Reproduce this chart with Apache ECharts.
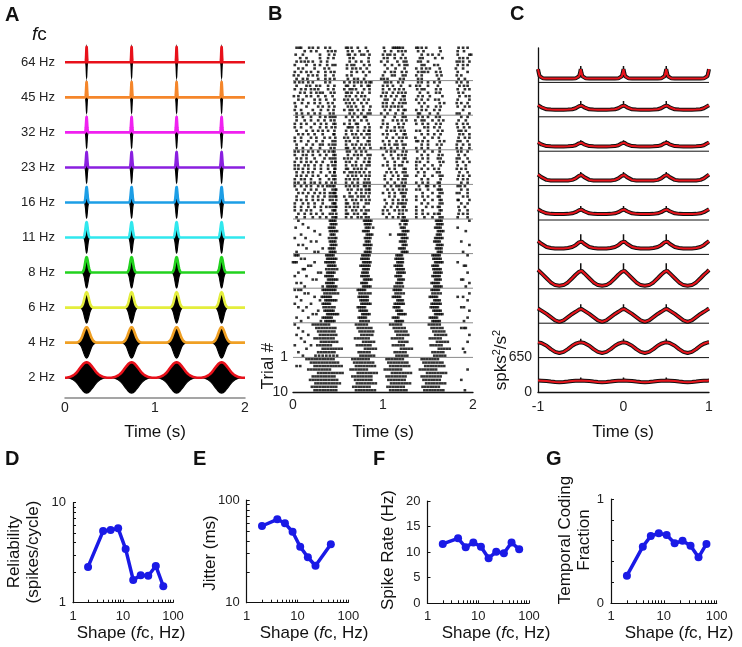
<!DOCTYPE html>
<html><head><meta charset="utf-8">
<script src="https://cdn.jsdelivr.net/npm/echarts@6/dist/echarts.min.js"></script>
<style>html,body{margin:0;padding:0;background:#fff}#c{width:742px;height:647px}</style>
</head><body><div id="c"></div><script>
const FONT = '"Liberation Sans", Arial, Helvetica, sans-serif';

// ---------- Panel A: stimulus waveforms ----------
const aLabels = ['2 Hz','4 Hz','6 Hz','8 Hz','11 Hz','16 Hz','23 Hz','32 Hz','45 Hz','64 Hz'];
const aColors = ['#e8101a','#f0a024','#e4ee3c','#22d21e','#30e8ee','#1c9ee6','#8a1fe0','#f020f0','#f5862a','#e8101a'];
const aPulseTimes = [0.24, 0.74, 1.24, 1.74];
const aHalfWidth = [0.075, 0.036, 0.024, 0.017, 0.012, 0.009, 0.007, 0.006, 0.005, 0.004];
const aAmp = 0.44;
const pulseOffsets = [0, 0.25, 0.5, 0.75, 1, 1.25, 1.5, 1.75, 2, 2.5, 3];
const pulseProfile = [1, 0.97, 0.88, 0.75, 0.61, 0.46, 0.32, 0.22, 0.14, 0.04, 0];

// ---------- Panel B: spike raster (times in 10 ms units), blocks top->bottom ----------
const spikes64 = [
[4,7,18,22,28,41,61,65,72,81,111,113,115,117,119,122,139,143,148,163,189,194,9,36,59,101,137,184],
[13,20,39,43,61,74,83,102,109,117,121,139,164,183,26,47,66,125,145,190],
[11,30,40,61,63,76,79,100,105,113,122,143,150,162,183,196,3,46,69,85,108,155,198],
[15,45,63,84,105,113,120,141,144,166,189,194,8,30,39,67,101,125,158,185],
[4,9,17,22,31,63,76,98,105,123,126,139,150,185,189,196,13,38,70,84,116,142,182],
[15,24,38,44,65,68,79,102,118,124,127,143,146,161,183,189,194,2,30,47,60,85,110,157],
[11,24,35,66,70,82,105,124,143,148,163,189,6,40,60,75,114,137,152,181],
[2,15,20,42,46,65,78,102,109,121,126,143,146,150,164,183,194,9,28,36,71,85,113,139,159],
[6,17,22,36,65,81,100,113,122,143,160,165,187,1,27,45,60,110,125,137,182],
[4,11,28,41,61,68,72,98,105,123,143,162,191,16,36,46,79,101,119,139,184]];
const spikes45 = [
[2,11,17,22,41,57,68,72,76,81,87,102,105,117,122,139,143,150,163,187,194,7,36,63,85,109,157,182],
[4,15,26,30,46,61,68,76,83,105,111,120,130,141,150,161,185,194,19,39,59,85,100,137,190],
[2,9,20,24,28,39,57,63,70,79,100,107,113,123,143,146,164,183,191,196,14,45,66,85,118,138,159],
[13,26,30,33,42,61,65,72,85,104,111,117,121,141,150,163,189,8,20,46,59,77,100,125,159,184],
[6,20,28,44,63,70,76,80,98,109,115,122,139,144,166,185,192,1,15,36,59,103,124,152,196],
[11,24,37,57,61,66,79,102,105,120,124,143,150,162,183,196,6,30,46,72,84,113,137,158],
[2,17,30,44,59,68,76,82,100,111,118,122,146,163,168,187,194,10,24,39,63,104,125,140,182],
[28,33,40,61,65,86,104,109,113,121,150,159,164,183,191,3,15,46,70,78,100,117,143,196],
[9,22,45,57,63,72,78,102,117,123,143,148,163,189,2,31,39,66,85,108,125,137,157],
[4,17,30,41,63,76,83,98,105,122,141,161,185,196,10,24,45,68,86,114,139,152,182]];
const spikes32 = [
[4,30,41,44,66,79,81,102,122,125,139,150,163,187,11,20,36,47,59,72,113,144,159,194],
[13,28,35,42,63,68,76,100,111,121,126,143,146,162,167,192,4,20,46,82,116,136,155,184],
[9,24,31,45,57,70,72,84,105,117,123,144,159,164,189,194,2,15,37,47,63,100,137,150,182],
[2,20,43,61,63,66,80,98,113,122,146,150,163,183,196,9,30,37,47,72,85,105,118,157,190],
[15,28,33,39,59,65,79,84,104,109,120,124,141,161,166,187,192,4,22,46,72,85,113,137,150,184],
[6,11,24,46,66,70,76,82,105,115,123,143,150,164,185,189,17,33,45,59,85,100,125,157,196],
[2,20,35,41,57,61,68,79,111,118,122,126,146,162,191,196,9,26,47,72,85,104,136,155,184],
[9,17,26,44,63,72,83,100,107,121,139,144,163,168,183,194,2,33,47,59,85,115,137,150,186],
[4,15,22,40,47,59,66,76,81,102,113,122,125,150,160,165,189,30,33,44,70,85,107,116,143,182,196],
[11,30,42,61,68,79,86,98,109,123,143,163,187,196,4,20,46,59,74,102,116,137,150,182]];
const spikes23 = [
[2,6,17,28,40,44,63,70,81,104,113,122,126,146,163,183,187,11,22,35,46,60,76,109,138,155,194],
[11,22,30,45,61,68,76,83,86,109,117,121,143,162,166,191,2,15,37,47,72,100,125,150,184],
[4,15,35,41,44,57,65,72,80,102,111,123,125,150,161,164,185,194,9,24,47,61,85,117,138,144,182],
[9,20,26,43,47,63,70,79,84,105,122,127,141,163,167,189,196,2,15,33,47,59,85,113,137,150,182],
[2,13,24,39,44,59,66,76,82,100,113,118,121,146,164,183,6,17,31,47,70,85,105,137,155,192],
[6,17,31,46,61,68,72,81,107,123,125,143,150,162,187,192,2,11,24,39,47,59,76,113,137,157,182],
[11,22,41,46,57,63,70,79,85,104,115,122,139,160,163,185,4,17,31,46,66,74,109,125,146,194],
[4,15,28,44,61,66,76,81,102,111,124,127,146,163,166,189,196,9,22,37,47,70,85,117,137,155,184],
[9,20,40,45,63,68,80,84,109,117,122,143,164,183,194,2,13,30,47,59,72,102,125,150,189],
[2,13,24,30,43,59,72,79,82,105,121,125,150,161,163,187,6,20,37,47,66,85,113,137,144,194]];
const spikes16 = [
[2,9,20,33,41,44,46,63,68,79,81,102,109,115,122,124,148,150,163,183,191,15,28,38,59,72,85,118,140,157,186],
[13,26,44,48,61,65,72,81,84,105,118,122,126,141,161,163,165,187,4,20,35,47,76,85,111,137,150,194],
[6,17,30,41,44,46,70,76,81,100,113,120,122,144,163,166,185,194,11,24,35,47,63,85,107,125,155,182],
[22,35,44,48,57,63,72,79,84,107,122,124,150,161,163,189,4,15,28,41,47,66,76,113,137,144,194],
[4,15,28,41,44,66,70,76,81,102,111,122,126,146,163,165,183,196,9,22,33,48,59,85,117,137,155,184],
[11,24,44,46,61,68,81,84,104,117,120,122,143,163,166,187,2,17,33,47,59,72,111,125,150,194],
[2,17,31,41,44,48,63,72,79,109,122,124,148,161,163,191,9,24,37,47,59,68,102,116,137,155,184],
[9,20,44,46,66,70,76,81,84,105,113,122,126,163,165,185,2,15,31,47,59,100,118,137,144,194],
[6,26,41,44,61,68,79,81,100,118,122,144,150,161,163,189,194,13,20,33,48,59,72,107,137,157,184],
[13,30,44,48,65,72,81,84,111,122,124,146,163,166,183,4,22,37,47,59,76,104,117,137,155,194]];
const spikes11 = [
[6,41,43,45,47,79,81,83,85,87,121,123,125,127,159,161,163,165,196],
[11,42,44,46,48,80,82,84,86,119,124,126,160,162,164,166],
[3,17,40,42,44,46,81,83,85,89,120,122,124,158,160,162,164,183],
[24,41,43,45,47,49,78,80,82,84,122,124,126,128,161,163,165,167,192],
[9,30,42,44,46,82,84,86,88,108,117,119,121,123,125,160,162,164],
[2,14,40,43,46,48,80,82,84,86,121,123,125,127,158,160,162,164,166],
[20,26,41,43,45,47,81,83,85,119,121,123,125,157,159,161,163,187],
[6,11,42,44,46,48,79,81,83,85,87,122,124,126,160,162,164,166,196],
[15,33,40,42,44,46,82,84,86,118,120,122,124,159,161,163,165],
[4,24,28,41,43,45,47,80,82,84,86,121,123,125,127,161,163,165,189]];
const spikes8 = [
[2,4,6,37,39,41,43,45,77,79,81,83,85,115,117,119,121,155,157,159,161,163,194],
[9,13,38,40,42,44,46,48,76,78,80,82,84,114,116,118,120,122,156,158,160,162,164],
[0,2,4,24,36,38,40,42,44,46,78,80,82,84,86,116,118,120,122,158,160,162,164,166,183],
[17,20,39,41,43,45,47,75,77,79,81,83,85,113,115,117,119,121,155,157,159,161,190,192],
[11,13,37,40,43,46,49,78,80,82,84,115,117,119,121,123,156,158,160,162,164],
[6,28,31,38,40,42,44,46,77,79,81,83,116,118,120,122,124,157,159,161,163,165,194],
[2,15,36,38,40,42,44,76,78,80,82,84,114,116,118,120,155,157,159,161,163],
[22,26,39,41,43,45,47,49,79,81,83,85,87,117,119,121,123,158,160,162,164,187,189],
[4,9,37,39,41,43,45,76,78,80,82,115,117,119,121,154,156,158,160,162,196],
[13,33,38,40,42,44,46,48,78,80,82,84,86,113,116,119,122,157,159,161,163,165,192]];
const spikes6 = [
[2,6,9,33,35,37,39,41,43,45,47,72,74,76,78,80,112,114,116,118,120,154,156,158,160,162],
[13,17,35,38,41,44,47,50,74,77,80,83,86,114,117,120,123,155,158,161,164,196],
[4,24,32,34,36,38,40,42,73,75,77,79,81,83,111,113,115,117,119,152,154,156,158,160,183,189],
[9,30,36,38,40,42,44,46,48,75,77,79,81,83,116,118,120,122,157,159,161,163,194],
[2,20,33,35,37,39,41,76,78,80,82,84,86,113,115,117,119,121,123,154,156,158,160,162,164],
[6,15,34,37,40,43,46,72,74,76,78,80,112,114,116,118,153,155,157,159,161,187,190],
[11,28,35,37,39,41,43,45,74,76,78,80,82,115,117,119,121,156,158,160,162,164,196],
[22,26,38,40,42,44,46,48,50,77,79,81,83,85,117,119,121,123,125,158,160,162,164,166],
[4,17,33,35,37,39,41,43,73,75,77,79,81,111,113,115,117,152,154,156,158,160,194],
[9,31,36,38,40,42,44,46,75,78,81,84,114,116,118,120,122,155,157,159,161,163,190]];
const spikes4 = [
[2,22,25,28,31,34,37,40,70,73,76,79,82,108,111,114,117,120,151,154,157,160,163],
[6,26,29,32,35,38,41,44,47,72,75,78,81,84,87,112,115,118,121,124,154,157,160,163,166,187,190,192],
[11,28,31,34,37,40,43,46,74,77,80,83,86,89,114,117,120,123,126,156,159,162,165,168],
[4,17,30,33,36,39,42,45,48,76,79,82,85,88,116,119,122,125,128,158,161,164,167,170,196],
[9,24,27,30,33,36,39,42,45,69,72,75,78,81,84,110,113,116,119,122,152,155,158,161,164],
[13,31,34,37,40,43,46,49,78,81,84,87,90,118,121,124,127,160,163,166,169,172,194],
[2,20,27,30,33,36,39,42,71,74,77,80,83,86,111,114,117,120,123,153,156,159,162,165],
[15,33,36,39,42,45,48,51,54,80,83,86,89,92,120,123,126,129,132,162,165,168,171,174,189],
[6,28,31,34,37,40,43,46,73,76,79,82,85,113,116,119,122,125,155,158,161,164,167,191],
[11,25,29,33,37,41,45,49,75,78,81,84,87,90,115,118,121,124,127,157,160,163,166,169]];
const spikes2 = [
[15,18,21,24,27,30,33,36,39,42,45,66,69,72,75,78,81,84,104,107,110,113,116,119,122,143,146,149,152,155,158,161],
[20,23,26,29,32,35,38,41,44,47,50,68,71,74,77,80,83,86,89,106,109,112,115,118,121,124,127,145,148,151,154,157,160,163,166],
[4,8,24,27,30,33,36,39,42,45,48,51,54,70,73,76,79,82,85,88,91,108,111,114,117,120,123,126,129,147,150,153,156,159,162,165,168],
[17,20,23,26,29,32,35,38,41,64,67,70,73,76,79,82,102,105,108,111,114,117,120,141,144,147,150,153,156,159,194],
[28,31,34,37,40,43,46,49,52,55,72,75,78,81,84,87,90,93,110,113,116,119,122,125,128,131,149,152,155,158,161,164,167,170],
[22,25,28,31,34,37,40,43,46,66,69,72,75,78,81,84,87,104,107,110,113,116,119,122,125,143,146,149,152,155,158,161,164],
[19,22,25,28,31,34,37,40,43,46,49,69,72,75,78,81,84,87,106,109,112,115,118,121,124,145,148,151,154,157,160,163,187],
[25,28,31,34,37,40,43,46,49,52,71,74,77,80,83,86,89,92,109,112,115,118,121,124,127,130,148,151,154,157,160,163,166,169],
[21,24,27,30,33,36,39,42,45,48,67,70,73,76,79,82,85,105,108,111,114,117,120,123,144,147,150,153,156,159,162],
[24,27,30,33,36,39,42,45,48,70,73,76,79,82,85,88,91,108,111,114,117,120,123,126,146,149,152,155,158,161,164,167,191]];
const rasterBlocks = [spikes64, spikes45, spikes32, spikes23, spikes16, spikes11, spikes8, spikes6, spikes4, spikes2];
const trialsPerBlock = 10;

// ---------- Panel C: autocorrelation profiles (spks^2/s^2) vs lag from each peak ----------
const lagGrid = [0, 0.01, 0.02, 0.04, 0.06, 0.1, 0.15, 0.2, 0.25];
const acf2  = [215,215,214,213,211,207,198,190,186];
const acf4  = [288,287,284,275,262,225,160,108,88];
const acf6  = [277,268,258,238,215,175,115,55,25];
const acf8  = [355,340,322,295,265,200,120,70,57];
const acf11 = [250,242,228,200,175,140,120,112,110];
const acf16 = [203,197,185,165,148,126,116,113,112];
const acf23 = [208,200,185,160,135,108,98,95,95];
const acf32 = [167,160,148,128,112,96,92,90,90];
const acf45 = [218,212,200,180,162,142,136,134,134];
const acf64 = [250,170,115,85,76,72,72,72,72];
const acfRows = [acf2, acf4, acf6, acf8, acf11, acf16, acf23, acf32, acf45, acf64];
const acfPeakSpike = [60, 70, 80, 130, 130, 60, 50, 40, 80, 60];
const acfPeakLags = [-0.5, 0, 0.5];
const acfRowStep = 650;

// ---------- Panels D-G ----------
const fcAll = [2, 4, 5.66, 8, 11.3, 16, 22.6, 32, 45.3, 64];
const reliability = [2.28, 5.2, 5.33, 5.54, 3.44, 1.69, 1.88, 1.86, 2.33, 1.46];
const fcJitter = [2, 4, 5.66, 8, 11.3, 16, 22.6, 45.3];
const jitter = [55.8, 64.9, 59.3, 49.1, 35.1, 27.7, 22.9, 37.1];
const spikeRate = [11.6, 12.7, 10.95, 11.9, 11.07, 8.8, 10.1, 9.78, 11.9, 10.55];
const tcFraction = [0.265, 0.543, 0.645, 0.671, 0.655, 0.575, 0.6, 0.552, 0.441, 0.569];

// ================= build =================
const grids = [], xAxes = [], yAxes = [], series = [];
const lbl = {fontFamily: FONT, fontSize: 14, color: '#222'};
const quiet = {silent: true, animation: false};

// --- A ---
grids.push({left: 65, top: 41.3, width: 180, height: 356, outerBoundsMode: 'none'});
xAxes.push({gridIndex: 0, type: 'value', min: 0, max: 2, interval: 1,
  axisLine: {onZero: false, lineStyle: {color: '#888', width: 1.5}}, axisTick: {show: false}, splitLine: {show: false},
  axisLabel: Object.assign({margin: 4}, lbl)});
yAxes.push({gridIndex: 0, type: 'value', min: -0.56, max: 9.6,
  axisLine: {show: false, onZero: false}, axisTick: {show: false}, splitLine: {show: false},
  axisLabel: Object.assign({}, lbl, {fontSize: 13, margin: 10, customValues: [0,1,2,3,4,5,6,7,8,9],
    formatter: v => aLabels[Math.round(v)]})});
aLabels.forEach((name, k) => {
  const up = [[0, k]], dn = [[0, k]];
  aPulseTimes.forEach(c => {
    for (let i = pulseOffsets.length - 1; i >= 0; i--) {
      const t = c - pulseOffsets[i] * aHalfWidth[k];
      up.push([t, k + aAmp * pulseProfile[i]]); dn.push([t, k - aAmp * pulseProfile[i]]);
    }
    for (let i = 1; i < pulseOffsets.length; i++) {
      const t = c + pulseOffsets[i] * aHalfWidth[k];
      up.push([t, k + aAmp * pulseProfile[i]]); dn.push([t, k - aAmp * pulseProfile[i]]);
    }
  });
  up.push([2, k]); dn.push([2, k]);
  series.push(Object.assign({type: 'custom', xAxisIndex: 0, yAxisIndex: 0, data: [[0, k]], clip: false,
    renderItem: (params, api) => {
      const U = up.map(p => api.coord(p)), Dn = dn.map(p => api.coord(p));
      return {type: 'group', children: [
        {type: 'polygon', shape: {points: U.concat(Dn.slice().reverse())}, style: {fill: '#000', stroke: '#000', lineWidth: 1.1}},
        {type: 'polyline', shape: {points: U}, style: {stroke: aColors[k], lineWidth: 2.6, fill: null, lineJoin: 'round'}}
      ]};
    }}, quiet));
});

// --- B ---
grids.push({left: 293, top: 46, width: 180, height: 346, outerBoundsMode: 'none'});
xAxes.push({gridIndex: 1, type: 'value', min: 0, max: 2, interval: 1,
  axisLine: {onZero: false, lineStyle: {color: '#111', width: 1.3}}, axisTick: {show: false}, splitLine: {show: false},
  axisLabel: Object.assign({margin: 6}, lbl)});
yAxes.push({gridIndex: 1, type: 'value', min: 0, max: 100,
  axisLine: {show: false, onZero: false}, axisTick: {show: false}, splitLine: {show: false},
  axisLabel: Object.assign({}, lbl, {margin: 5, customValues: [0, 10], formatter: v => v === 0 ? '10' : '1'})});
for (let b = 1; b < rasterBlocks.length; b++) {
  const y = b * trialsPerBlock;
  series.push(Object.assign({type: 'line', xAxisIndex: 1, yAxisIndex: 1, showSymbol: false,
    data: [[0, y], [2, y]], lineStyle: {color: '#8a8a8a', width: 1}, z: 1}, quiet));
}
const rasterData = [];
rasterBlocks.forEach((block, b) => block.forEach((row, r) => {
  const y = rasterBlocks.length * trialsPerBlock - (b * trialsPerBlock + r) - 0.5;
  row.forEach(s => rasterData.push([s / 100, y]));
}));
series.push(Object.assign({type: 'scatter', xAxisIndex: 1, yAxisIndex: 1, data: rasterData, symbol: 'rect',
  symbolSize: [2.7, 2.5], itemStyle: {color: '#000'}, clip: false, z: 3}, quiet));

// --- C ---
grids.push({left: 538, top: 48, width: 171, height: 344, outerBoundsMode: 'none'});
xAxes.push({gridIndex: 2, type: 'value', min: -1, max: 1, interval: 1,
  axisLine: {onZero: false, lineStyle: {color: '#111', width: 1.3}}, axisTick: {show: false}, splitLine: {show: false},
  axisLabel: Object.assign({margin: 8}, lbl)});
yAxes.push({gridIndex: 2, type: 'value', min: 0, max: 6500,
  axisLine: {show: true, onZero: false, lineStyle: {color: '#111', width: 1.3}}, axisTick: {show: false},
  splitLine: {show: false},
  axisLabel: Object.assign({}, lbl, {margin: 6, customValues: [0, 650]})});
for (let j = 1; j < acfRows.length; j++) {
  series.push(Object.assign({type: 'line', xAxisIndex: 2, yAxisIndex: 2, showSymbol: false,
    data: [[-1, j * acfRowStep], [1, j * acfRowStep]], lineStyle: {color: '#111', width: 1}, z: 1}, quiet));
}
function periodic(profile, offset) {
  const pts = new Map();
  [-1, -0.5, 0, 0.5, 1].forEach(c => {
    lagGrid.forEach((d, i) => {
      const val = offset + profile[i];
      [c - d, c + d].forEach(t => { if (t >= -1.0001 && t <= 1.0001) pts.set(t.toFixed(4), [t, val]); });
    });
  });
  return Array.from(pts.values()).sort((a, b) => a[0] - b[0]);
}
acfRows.forEach((prof, j) => {
  const off = j * acfRowStep;
  series.push(Object.assign({type: 'line', xAxisIndex: 2, yAxisIndex: 2, showSymbol: false,
    data: periodic(prof, off), lineStyle: {color: '#111', width: 4}, z: 2}, quiet));
  const spk = [];
  acfPeakLags.forEach(c => { spk.push([c, off + prof[0]], [c, off + prof[0] + acfPeakSpike[j]], null); });
  series.push(Object.assign({type: 'line', xAxisIndex: 2, yAxisIndex: 2, showSymbol: false, connectNulls: false,
    data: spk, lineStyle: {color: '#111', width: 1.5}, z: 2}, quiet));
  series.push(Object.assign({type: 'line', xAxisIndex: 2, yAxisIndex: 2, showSymbol: false,
    data: periodic(prof, off), lineStyle: {color: '#e8141c', width: 2}, z: 3}, quiet));
});

// --- D-G ---
const small = [
  {left: 73, top: 502.7, width: 100, height: 100, ylog: true, ymin: 1, ymax: 10, x: fcAll, y: reliability},
  {left: 246.7, top: 500, width: 101.6, height: 102.7, ylog: true, ymin: 10, ymax: 100, x: fcJitter, y: jitter},
  {left: 427.5, top: 501, width: 101.5, height: 102.3, ylog: false, ymin: 0, ymax: 20, interval: 5, x: fcAll, y: spikeRate},
  {left: 611, top: 499, width: 105.7, height: 104.3, ylog: false, ymin: 0, ymax: 1, interval: 0.2, onlyEnds: true, x: fcAll, y: tcFraction}
];
const logMinor = [1,2,3,4,5,6,7,8,9,10,20,30,40,50,60,70,80,90,100];
small.forEach((p, i) => {
  const gi = 3 + i;
  grids.push({left: p.left, top: p.top, width: p.width, height: p.height, outerBoundsMode: 'none'});
  xAxes.push({gridIndex: gi, type: 'log', logBase: 10, min: 1, max: 100,
    axisLine: {onZero: false, lineStyle: {color: '#111', width: 1.2}},
    axisTick: {show: true, inside: true, length: 3, customValues: logMinor, lineStyle: {color: '#111'}},
    splitLine: {show: false}, minorTick: {show: false},
    axisLabel: Object.assign({}, lbl, {fontSize: 13, margin: 7, customValues: [1, 10, 100]})});
  const y = {gridIndex: gi, min: p.ymin, max: p.ymax,
    axisLine: {show: true, onZero: false, lineStyle: {color: '#111', width: 1.2}}, splitLine: {show: false},
    axisLabel: Object.assign({}, lbl, {fontSize: 13, margin: 7})};
  if (p.ylog) {
    y.type = 'log'; y.logBase = 10;
    const m = p.ymin;
    y.axisTick = {show: true, inside: true, length: 3, customValues: [1,2,3,4,5,6,7,8,9,10].map(v => v * m), lineStyle: {color: '#111'}};
    y.axisLabel.customValues = [p.ymin, p.ymax];
  } else {
    y.type = 'value'; y.interval = p.interval;
    y.axisTick = {show: true, inside: true, length: 3, lineStyle: {color: '#111'}};
    if (p.onlyEnds) y.axisLabel.formatter = v => (v === 0 || v === 1) ? String(v) : '';
  }
  yAxes.push(y);
  series.push(Object.assign({type: 'line', xAxisIndex: gi, yAxisIndex: gi, data: p.x.map((v, k) => [v, p.y[k]]),
    symbol: 'circle', symbolSize: 8, showSymbol: true,
    lineStyle: {color: '#1a1ae6', width: 3.5}, itemStyle: {color: '#1a1ae6'}}, quiet));
});

// ---------- text ----------
const graphics = [];
function txt(x, y, text, opts) {
  opts = opts || {};
  graphics.push({type: 'text', x: x, y: y, rotation: opts.rot || 0, silent: true,
    style: Object.assign({text: text, font: (opts.weight || 'normal') + ' ' + (opts.size || 17) + 'px ' + FONT,
      fill: '#111', textAlign: opts.align || 'center', textVerticalAlign: 'middle'}, opts.style || {})});
}
[['A',5,15],['B',268,14.5],['C',510,14.5],['D',5,459],['E',193,459],['F',373,459],['G',546,459]]
  .forEach(a => txt(a[1], a[2], a[0], {weight: 'bold', size: 20, align: 'left'}));
const shapeRich = {n: {fontFamily: FONT, fontSize: 17, fill: '#111'}, i: {fontFamily: FONT, fontSize: 17, fontStyle: 'italic', fill: '#111'}};
txt(32, 35, '{i|f}{n|c}', {align: 'left', style: {rich: {n: {fontFamily: FONT, fontSize: 19}, i: {fontFamily: FONT, fontSize: 19, fontStyle: 'italic'}}}});
txt(155, 432, 'Time (s)');
txt(383, 432, 'Time (s)');
txt(623, 432, 'Time (s)');
txt(268, 366, 'Trial #', {rot: Math.PI / 2});
txt(501, 360, '{n|spks}{s|2}{n|/s}{s|2}', {rot: Math.PI / 2, style: {rich: {n: {fontFamily: FONT, fontSize: 17}, s: {fontFamily: FONT, fontSize: 11, verticalAlign: 'top', padding: [0,0,8,0]}}}});
txt(24, 552, 'Reliability\n(spikes/cycle)', {rot: Math.PI / 2, style: {lineHeight: 19}});
txt(210, 553, 'Jitter (ms)', {rot: Math.PI / 2});
txt(388, 550, 'Spike Rate (Hz)', {rot: Math.PI / 2});
txt(575, 540, 'Temporal Coding\nFraction', {rot: Math.PI / 2, style: {lineHeight: 19}});
[[131,633],[314,633],[496,633],[679,633]].forEach(p =>
  txt(p[0], p[1], '{n|Shape (}{i|f}{n|c, Hz)}', {style: {rich: shapeRich}}));

const chart = echarts.init(document.getElementById('c'), null, {renderer: 'canvas'});
chart.setOption({animation: false, backgroundColor: '#fff', textStyle: {fontFamily: FONT},
  grid: grids, xAxis: xAxes, yAxis: yAxes, series: series, graphic: graphics});
</script></body></html>
